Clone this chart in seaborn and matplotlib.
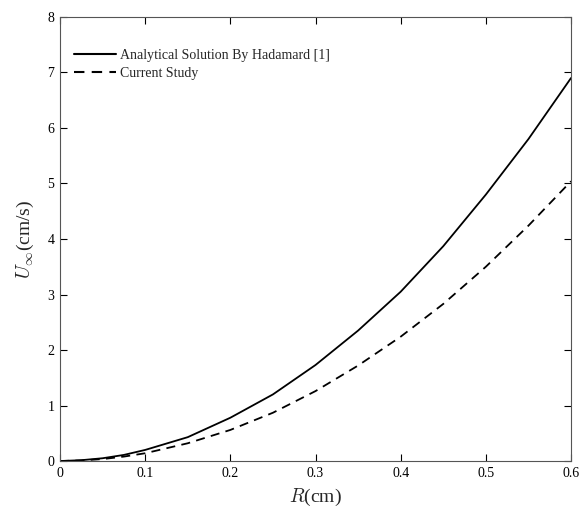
import numpy as np
import pandas as pd
import seaborn as sns
import matplotlib.pyplot as plt

# values
radius = [0.0, 0.025, 0.05, 0.075, 0.1, 0.15, 0.2, 0.25, 0.3, 0.35, 0.4, 0.45, 0.5, 0.55, 0.6]
hadamard = [0.0, 0.015, 0.05, 0.11, 0.2, 0.43, 0.78, 1.2, 1.73, 2.35, 3.05, 3.87, 4.8, 5.8, 6.9]
current = [0.0, 0.01, 0.035, 0.08, 0.14, 0.32, 0.56, 0.87, 1.26, 1.72, 2.24, 2.83, 3.5, 4.24, 5.04]

sns.set_theme(style="ticks")
plt.rcParams["font.family"] = ["Liberation Serif", "DejaVu Serif"]
plt.rcParams["mathtext.fontset"] = "cm"

df = pd.DataFrame({"R": radius + radius,
                   "U": hadamard + current,
                   "series": ["Analytical Solution By Hadamard [1]"] * len(radius)
                             + ["Current Study"] * len(radius)})

fig = plt.figure(figsize=(5.81, 5.11), dpi=100)
ax = fig.add_axes([0.1033, 0.0978, 0.8795, 0.869])

sns.lineplot(data=df, x="R", y="U", style="series",
             dashes={"Analytical Solution By Hadamard [1]": "",
                     "Current Study": (5, 3.5)},
             color="black", linewidth=1.3, ax=ax)

ax.set_xlim(0, 0.6)
ax.set_ylim(0, 8)
ax.set_xticks(np.arange(0, 0.61, 0.1))
ax.set_xticklabels(["0", "0.1", "0.2", "0.3", "0.4", "0.5", "0.6"])
ax.set_yticks(range(0, 9))
ax.tick_params(direction="in", top=True, right=True, length=5, width=0.8,
               labelsize=10, colors="black", pad=4)
for s in ax.spines.values():
    s.set_linewidth(0.8)
    s.set_color("#555555")

ax.set_xlabel(r"$R$(cm)", fontsize=14, labelpad=5)
ax.set_ylabel(r"$U_\infty$(cm/s)", fontsize=14, labelpad=8)

leg = ax.legend(loc="upper left", frameon=False, fontsize=10,
                handlelength=3, borderaxespad=0.6, labelspacing=0.4,
                handletextpad=0.3, bbox_to_anchor=(0.0, 0.96))
for line in leg.get_lines():
    line.set_linewidth(1.5)

plt.savefig("out.png", dpi=100)
plt.close()
